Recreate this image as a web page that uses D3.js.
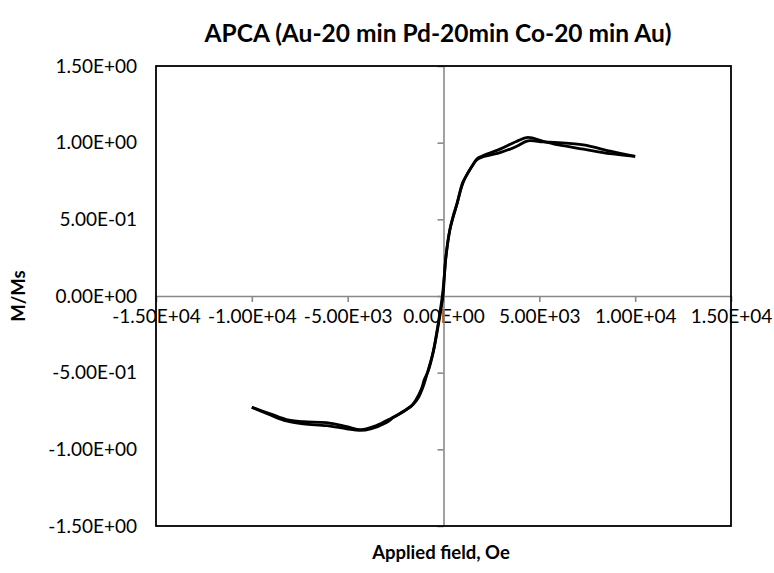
<!DOCTYPE html>
<html>
<head>
<meta charset="utf-8">
<script src="https://cdn.jsdelivr.net/npm/d3@7"></script>
<style>
  html, body { margin: 0; padding: 0; background: #fff; }
  svg { display: block; }
  text { font-family: Lato, "Open Sans", sans-serif; fill: #000; }
</style>
</head>
<body>
<svg id="chart" width="774" height="573"></svg>
<script>
// Normalised magnetisation loop, M/Ms against applied field (Oe)

// Ascending sweep, -10 kOe to +10 kOe
const fieldUp = [-10000, -9000, -8200, -7300, -6100, -5050, -4350, -3800, -3000, -2600,
  -2000, -1700, -1450, -1150, -1000, -800, -530, -270, -30, 50, 120, 330, 510, 690,
  950, 1120, 1470, 1730, 2000, 2950, 3800, 4400, 5200, 6000, 7300, 8700, 10000];
const momentUp = [-0.726, -0.778, -0.815, -0.834, -0.846, -0.866, -0.876, -0.866, -0.826, -0.792,
  -0.745, -0.720, -0.680, -0.605, -0.545, -0.490, -0.363, -0.189, 0.0, 0.137, 0.246, 0.430, 0.517, 0.594,
  0.713, 0.768, 0.843, 0.887, 0.905, 0.935, 0.975, 1.012, 1.005, 1.000, 0.985, 0.945, 0.910];

// Descending sweep, +10 kOe back to -10 kOe
const fieldDown = [10000, 8700, 7300, 6000, 5200, 4400, 3800, 2950, 2000, 1750,
  1500, 1150, 1000, 900, 700, 500, 330, 120, 40, -60, -290, -550, -840, -1060,
  -1300, -1600, -1800, -2100, -2700, -3500, -4300, -5050, -6100, -7300, -8200, -9000, -10000];
const momentDown = [0.910, 0.928, 0.958, 0.985, 1.008, 1.035, 1.008, 0.958, 0.912, 0.895,
  0.850, 0.775, 0.740, 0.700, 0.600, 0.520, 0.430, 0.250, 0.130, 0.0, -0.190, -0.370, -0.500, -0.590,
  -0.660, -0.710, -0.728, -0.755, -0.795, -0.845, -0.872, -0.852, -0.826, -0.820, -0.806, -0.770, -0.726];

// Axis ticks
const xTicks = [-15000, -10000, -5000, 0, 5000, 10000, 15000];
const yTicks = [-1.5, -1.0, -0.5, 0, 0.5, 1.0, 1.5];

const titleText = "APCA (Au-20 min Pd-20min Co-20 min Au)";
const xTitle = "Applied field, Oe";
const yTitle = "M/Ms";

// Excel-style scientific notation, e.g. 1.50E+00, -5.00E+03
function sci(v) {
  if (v === 0) return "0.00E+00";
  const e = Math.floor(Math.log10(Math.abs(v)) + 1e-9);
  const m = v / Math.pow(10, e);
  const ee = String(Math.abs(e)).padStart(2, "0");
  return m.toFixed(2) + "E" + (e < 0 ? "-" : "+") + ee;
}

const svg = d3.select("#chart");
const plot = { left: 156, right: 731, top: 66, bottom: 526 };

const x = d3.scaleLinear().domain([-15000, 15000]).range([plot.left, plot.right]);
const y = d3.scaleLinear().domain([-1.5, 1.5]).range([plot.bottom, plot.top]);

const tickFont = "19px";

// Title
svg.append("text")
  .attr("x", 438).attr("y", 42)
  .attr("text-anchor", "middle")
  .style("font-weight", "bold").style("font-size", "24.5px")
  .text(titleText);

// Y tick labels on the left of the plot area
const yLab = svg.append("g")
  .attr("transform", `translate(${plot.left},0)`)
  .call(d3.axisLeft(y).tickValues(yTicks).tickFormat(sci).tickSize(0).tickPadding(19));
yLab.select(".domain").remove();
yLab.selectAll("text").style("font-size", tickFont).style("font-family", "Lato, sans-serif");

// Zero axes (grey) with tick marks
const xAxis = svg.append("g")
  .attr("transform", `translate(0,${y(0)})`)
  .call(d3.axisBottom(x).tickValues(xTicks).tickFormat(sci).tickSize(6).tickSizeOuter(0).tickPadding(8));
xAxis.select(".domain").attr("stroke", "#898989").attr("stroke-width", 1.6);
xAxis.selectAll(".tick line").attr("stroke", "#898989").attr("stroke-width", 1.6);
xAxis.selectAll("text").style("font-size", tickFont).style("font-family", "Lato, sans-serif");

const yAxis = svg.append("g")
  .attr("transform", `translate(${x(0)},0)`)
  .call(d3.axisLeft(y).tickValues(yTicks).tickFormat("").tickSize(6).tickSizeOuter(0));
yAxis.select(".domain").attr("stroke", "#898989").attr("stroke-width", 1.6);
yAxis.selectAll(".tick line").attr("stroke", "#898989").attr("stroke-width", 1.6);

// Plot-area border
svg.append("rect")
  .attr("x", plot.left).attr("y", plot.top)
  .attr("width", plot.right - plot.left).attr("height", plot.bottom - plot.top)
  .attr("fill", "none").attr("stroke", "#000").attr("stroke-width", 1.8);

// Loop branches
const line = d3.line()
  .x(d => x(d[0])).y(d => y(d[1]))
  .curve(d3.curveCatmullRom.alpha(0.5));

const up = fieldUp.map((f, i) => [f, momentUp[i]]);
const down = fieldDown.map((f, i) => [f, momentDown[i]]);

svg.append("g").selectAll("path")
  .data([up, down])
  .join("path")
  .attr("d", line)
  .attr("fill", "none")
  .attr("stroke", "#000")
  .attr("stroke-width", 2.8)
  .attr("stroke-linejoin", "round")
  .attr("stroke-linecap", "butt");

// Axis titles
svg.append("text")
  .attr("x", 441).attr("y", 559)
  .attr("text-anchor", "middle")
  .style("font-weight", "bold").style("font-size", "18.5px")
  .text(xTitle);

svg.append("text")
  .attr("transform", `translate(25,296) rotate(-90)`)
  .attr("text-anchor", "middle")
  .style("font-weight", "bold").style("font-size", "18.5px")
  .text(yTitle);
</script>
</body>
</html>
